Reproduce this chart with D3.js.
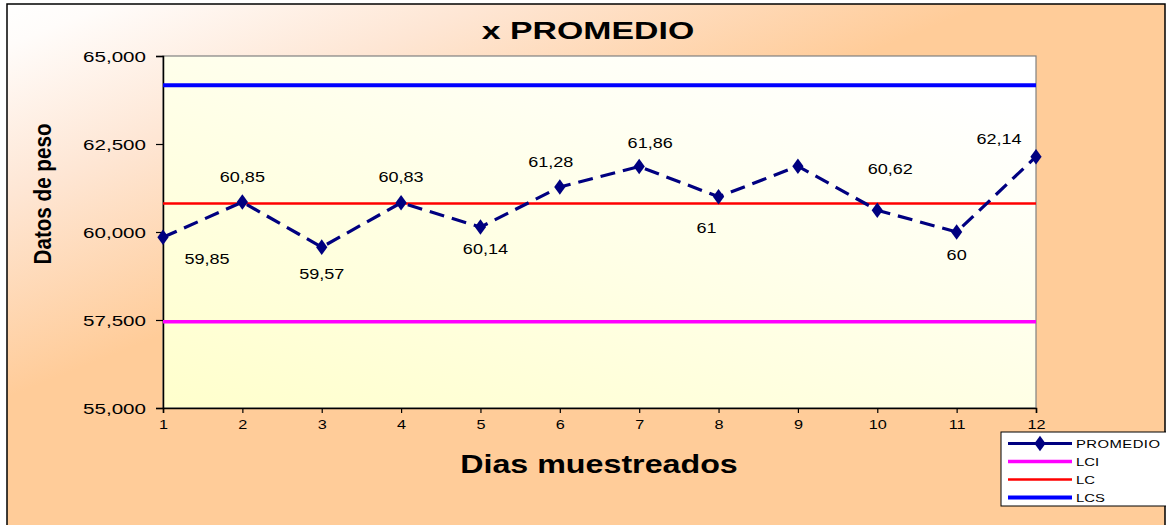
<!DOCTYPE html>
<html>
<head>
<meta charset="utf-8">
<script src="https://cdn.jsdelivr.net/npm/d3@7"></script>
<style>
  html, body { margin: 0; padding: 0; background: #fff; }
  svg { display: block; font-family: Arial, "Liberation Sans", sans-serif; }
</style>
</head>
<body>
<svg id="chart" width="1166" height="525"></svg>
<script>
// Daily sample averages and control limits
const days = [1, 2, 3, 4, 5, 6, 7, 8, 9, 10, 11, 12];
const promedio = [59.85, 60.85, 59.57, 60.83, 60.14, 61.28, 61.86, 61, 61.87, 60.62, 60, 62.14];
const pointLabels = ["59,85", "60,85", "59,57", "60,83", "60,14", "61,28", "61,86", "61", null, "60,62", "60", "62,14"];
const lci = 57.45;
const lc = 60.81;
const lcs = 64.17;
const yTicks = [55, 57.5, 60, 62.5, 65];
const legendItems = ["PROMEDIO", "LCI", "LC", "LCS"];

// Label placement around each marker (layout only)
const labelOffsets = [[44, 22], [0, -25], [0, 27], [0, -26], [5, 22], [-9, -25], [11, -24], [-12, 31], [0, 0], [13, -41], [0, 23], [-37, -18]];

// Text is drawn wider than its natural proportions
const SX = 1.3;
const FONT = "Arial, 'Liberation Sans', sans-serif";

const plot = { left: 163, top: 56, right: 1036, bottom: 408 };

const svg = d3.select("#chart");
const defs = svg.append("defs");

const bgGrad = defs.append("linearGradient").attr("id", "bgGrad")
  .attr("gradientUnits", "userSpaceOnUse")
  .attr("x1", 0).attr("y1", 0).attr("x2", 138).attr("y2", 345);
bgGrad.append("stop").attr("offset", "0%").attr("stop-color", "#ffffff");
bgGrad.append("stop").attr("offset", "12%").attr("stop-color", "#fffcfa");
bgGrad.append("stop").attr("offset", "50%").attr("stop-color", "#fee6d4");
bgGrad.append("stop").attr("offset", "100%").attr("stop-color", "#ffcc99");

const plotGrad = defs.append("linearGradient").attr("id", "plotGrad")
  .attr("x1", 0).attr("y1", 1).attr("x2", 0.8).attr("y2", 0);
plotGrad.append("stop").attr("offset", "0%").attr("stop-color", "#ffffcc");
plotGrad.append("stop").attr("offset", "100%").attr("stop-color", "#ffffff");

// Chart background and frame
svg.append("rect").attr("x", 7).attr("y", 4).attr("width", 1158).attr("height", 540)
  .attr("fill", "url(#bgGrad)").attr("stroke", "#000").attr("stroke-width", 1.5);

const x = d3.scaleLinear().domain([1, 12]).range([plot.left, plot.right]);
const y = d3.scaleLinear().domain([55, 65]).range([plot.bottom, plot.top]);

// Plot area
svg.append("rect").attr("x", plot.left).attr("y", plot.top)
  .attr("width", plot.right - plot.left).attr("height", plot.bottom - plot.top)
  .attr("fill", "url(#plotGrad)").attr("stroke", "#808080").attr("stroke-width", 1.2);

// Helper: horizontally stretched text anchored at (tx, ty)
function addText(parent, tx, ty, str, size, weight, anchor, sx) {
  return parent.append("text")
    .attr("transform", `translate(${tx},${ty}) scale(${sx},1)`)
    .attr("text-anchor", anchor).attr("font-size", size)
    .attr("font-weight", weight).attr("font-family", FONT).attr("fill", "#000")
    .text(str);
}

// Axes
const yAxis = d3.axisLeft(y).tickValues(yTicks)
  .tickFormat(d => d3.format(".3f")(d).replace(".", ","))
  .tickSize(7).tickPadding(10);
const gy = svg.append("g").attr("transform", `translate(${plot.left},0)`).call(yAxis);
gy.select(".domain").attr("stroke", "#000").attr("stroke-width", 1.5);
gy.selectAll(".tick line").attr("stroke", "#000").attr("stroke-width", 1.2);
gy.selectAll(".tick text").attr("font-size", 15.5).attr("fill", "#000")
  .attr("font-family", FONT).attr("x", 0).attr("dy", "0.36em")
  .attr("transform", `translate(-17,0) scale(${SX + 0.03},1)`);

const xAxis = d3.axisBottom(x).tickValues(days).tickFormat(d3.format("d"))
  .tickSize(5).tickPadding(7);
const gx = svg.append("g").attr("transform", `translate(0,${plot.bottom})`).call(xAxis);
gx.select(".domain").attr("stroke", "#000").attr("stroke-width", 1.5);
gx.selectAll(".tick line").attr("stroke", "#000").attr("stroke-width", 1.2);
gx.selectAll(".tick text").attr("font-size", 12.5).attr("fill", "#000")
  .attr("font-family", FONT).attr("transform", `scale(${SX},1)`);

// Control limit lines
const limits = [
  { v: lcs, color: "#0000ff", w: 4 },
  { v: lc, color: "#ff0000", w: 2.5 },
  { v: lci, color: "#ff00ff", w: 3.5 }
];
svg.selectAll(".limit").data(limits).join("line").attr("class", "limit")
  .attr("x1", x(1)).attr("x2", x(12))
  .attr("y1", d => y(d.v)).attr("y2", d => y(d.v))
  .attr("stroke", d => d.color).attr("stroke-width", d => d.w);

// Average series
const line = d3.line().x((d, i) => x(days[i])).y(d => y(d));
svg.append("path").datum(promedio).attr("d", line)
  .attr("fill", "none").attr("stroke", "#000080").attr("stroke-width", 3.2)
  .attr("stroke-dasharray", "15,8");

const diamond = d3.symbol().type(d3.symbolDiamond).size(70);
svg.selectAll(".pt").data(promedio).join("path").attr("class", "pt")
  .attr("d", diamond)
  .attr("transform", (d, i) => `translate(${x(days[i])},${y(d)}) scale(1.25,1)`)
  .attr("fill", "#000080");

// Value labels
const labelled = promedio.map((v, i) => ({ v, i, label: pointLabels[i] }))
  .filter(d => d.label !== null);
const gl = svg.append("g");
labelled.forEach(d => {
  addText(gl, x(days[d.i]) + labelOffsets[d.i][0], y(d.v) + labelOffsets[d.i][1],
    d.label, 14, "normal", "middle", SX - 0.01).attr("dy", "0.36em");
});

// Titles
addText(svg, 588, 38.5, "x PROMEDIO", 23.5, "bold", "middle", 1.44);
svg.append("text")
  .attr("transform", "translate(51,194) scale(1.2,1) rotate(-90)")
  .attr("text-anchor", "middle").attr("font-size", 20.5).attr("font-weight", "bold")
  .attr("font-family", FONT)
  .attr("textLength", 141).attr("lengthAdjust", "spacingAndGlyphs")
  .text("Datos de peso");
addText(svg, 599, 473, "Dias muestreados", 26, "bold", "middle", 1.24);

// Legend
const lg = svg.append("g").attr("transform", "translate(1001,432)");
lg.append("rect").attr("width", 170).attr("height", 74)
  .attr("fill", "#fff").attr("stroke", "#000").attr("stroke-width", 1);
const legendStyle = [
  { color: "#000080", w: 3, marker: true },
  { color: "#ff00ff", w: 3.5 },
  { color: "#ff0000", w: 2.5 },
  { color: "#0000ff", w: 4 }
];
legendItems.forEach((name, i) => {
  const cy = 11.5 + i * 18;
  const s = legendStyle[i];
  lg.append("line").attr("x1", 7).attr("x2", 71).attr("y1", cy).attr("y2", cy)
    .attr("stroke", s.color).attr("stroke-width", s.w);
  if (s.marker) {
    lg.append("path").attr("d", diamond)
      .attr("transform", `translate(39,${cy}) scale(1.25,1)`).attr("fill", s.color);
  }
  addText(lg, 75, cy, name, 11.6, "normal", "start", 1.28)
    .attr("dy", "0.36em").attr("letter-spacing", i === 0 ? 0.35 : 0);
});
</script>
</body>
</html>
